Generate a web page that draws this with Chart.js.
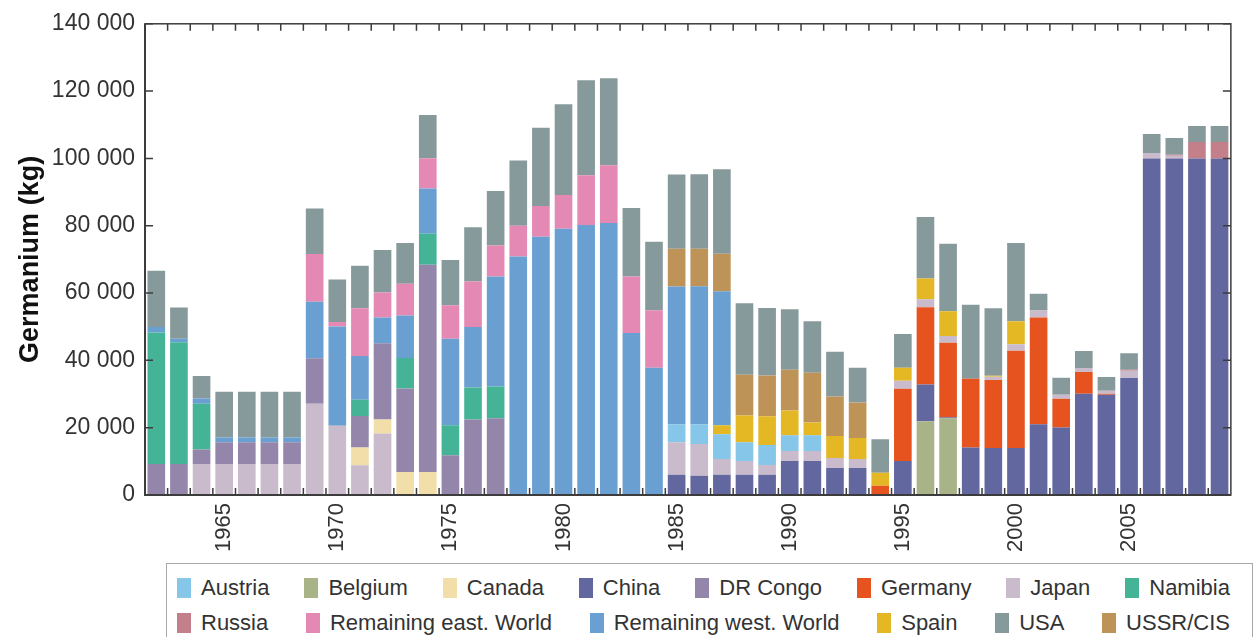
<!DOCTYPE html>
<html>
<head>
<meta charset="utf-8">
<script src="https://cdn.jsdelivr.net/npm/chart.js@4.4.1/dist/chart.umd.min.js"></script>
<style>
  body { margin: 0; background: #fff; font-family: 'Liberation Sans', Arial, sans-serif; }
  #wrap { position: relative; width: 1254px; height: 637px; overflow: hidden; }
  #box { position: absolute; left: 0; top: 0; width: 1254px; height: 560px; }
  #legend {
    position: absolute; left: 166px; top: 563px; width: 1053px; height: 90px;
    border: 1.5px solid #a8a8a8; padding: 6px 22px 0 10px; color: #333; font-size: 22px;
  }
  .row { display: flex; justify-content: space-between; height: 35px; align-items: center; }
  .item { display: flex; align-items: center; white-space: nowrap; }
  .sw { width: 14px; height: 20px; margin-right: 10px; }
</style>
</head>
<body>
<div id="wrap">
  <div id="box"><canvas id="chart"></canvas></div>
  <div id="legend"></div>
</div>
<script>
const years = [1962, 1963, 1964, 1965, 1966, 1967, 1968, 1969, 1970, 1971, 1972, 1973,
  1974, 1975, 1976, 1977, 1978, 1979, 1980, 1981, 1982, 1983, 1984, 1985,
  1986, 1987, 1988, 1989, 1990, 1991, 1992, 1993, 1994, 1995, 1996, 1997,
  1998, 1999, 2000, 2001, 2002, 2003, 2004, 2005, 2006, 2007, 2008, 2009];
const shownYears = [1965, 1970, 1975, 1980, 1985, 1990, 1995, 2000, 2005];

// kg per year, 1962..2009
const belgium = [0,0,0,0,0,0,0,0,0,0,0,0, 0,0,0,0,0,0,0,0,0,0,0,0,
  0,0,0,0,0,0,0,0,0,0,21900,22800, 0,0,0,0,0,0,0,0,0,0,0,0];
const china = [0,0,0,0,0,0,0,0,0,0,0,0, 0,0,0,0,0,0,0,0,0,0,0,6000,
  5700,6000,6000,6000,10100,10100,8050,8050,0,10100,10900,300,
  14150,13950,13950,21000,20050,30050,29750,34750,100000,100000,100000,100000];
const germany = [0,0,0,0,0,0,0,0,0,0,0,0, 0,0,0,0,0,0,0,0,0,0,0,0,
  0,0,0,0,0,0,0,0,2750,21500,23000,22100, 20400,20250,28900,31750,8550,6500,300,0,0,0,0,0];
const japan = [0,0,9200,9200,9200,9200,9200,27100,20600,8850,18250,0, 0,0,0,0,0,0,0,0,0,0,0,9700,
  9450,4700,4100,2950,2950,2950,2950,2650,0,2350,2350,2050, 0,900,1950,2050,1200,1200,900,2150,1650,800,0,0];
const canada = [0,0,0,0,0,0,0,0,0,5300,4150,6800, 6800,0,0,0,0,0,0,0,0,0,0,0,
  0,0,0,0,0,0,0,0,0,0,0,0, 0,0,0,0,0,0,0,0,0,0,0,0];
const austria = [0,0,0,0,0,0,0,0,0,0,0,0, 0,0,0,0,0,0,0,0,0,0,0,5300,
  5900,7350,5600,5900,4700,4700,0,0,0,0,0,0, 0,0,0,0,0,0,0,0,0,0,0,0];
const spain = [0,0,0,0,0,0,0,0,0,0,0,0, 0,0,0,0,0,0,0,0,0,0,0,0,
  0,2650,7950,8550,7350,3800,6500,6200,3850,3850,6200,7350, 0,300,6800,0,0,0,0,0,0,0,0,0];
const drCongo = [9200,9200,4350,6500,6500,6500,6500,13550,0,9350,22700,24850, 61600,11800,22400,22800,0,0,0,0,0,0,0,0,
  0,0,0,0,0,0,0,0,0,0,0,0, 0,0,0,0,0,0,0,0,0,0,0,0];
const namibia = [39100,36150,13550,0,0,0,0,0,0,4800,0,9050, 9250,8950,9550,9450,0,0,0,0,0,0,0,0,
  0,0,0,0,0,0,0,0,0,0,0,0, 0,0,0,0,0,0,0,0,0,0,0,0];
const remWest = [1600,1100,1600,1400,1400,1400,1400,16800,29500,13000,7650,12650,
  13450,25650,17950,32700,70850,76700,79100,80250,80850,48100,37800,40950,
  40950,39800,0,0,0,0,0,0,0,0,0,0, 0,0,0,0,0,0,0,0,0,0,0,0];
const remEast = [0,0,0,0,0,0,0,14150,1300,14150,7400,9450,
  8950,10000,13550,9150,9150,9150,10000,14750,17100,16800,17100,0,
  0,0,0,0,0,0,0,0,0,0,0,0, 0,0,0,0,0,0,0,0,0,0,0,0];
const ussr = [0,0,0,0,0,0,0,0,0,0,0,0, 0,0,0,0,0,0,0,0,0,0,0,11200,
  11200,11200,12100,12100,12100,14750,11800,10600,0,0,0,0, 0,0,0,0,0,0,0,0,0,0,0,0];
const russia = [0,0,0,0,0,0,0,0,0,0,0,0, 0,0,0,0,0,0,0,0,0,0,0,0,
  0,0,0,0,0,0,0,0,0,0,0,0, 0,0,0,0,0,0,0,300,0,300,4900,4900];
const usa = [16700,9250,6650,13550,13550,13550,13550,13550,12600,12700,12650,12100,
  12850,13450,16100,16200,19350,23300,27000,28200,25850,20350,20350,22100,
  22100,25050,21200,20050,18000,15300,13250,10300,10000,10000,18250,20050,
  22000,20050,23300,5000,5000,5000,4100,4950,5600,5000,4700,4700];

const yTicks = [0, 20000, 40000, 60000, 80000, 100000, 120000, 140000];

const legendOrder = ['Austria', 'Belgium', 'Canada', 'China', 'DR Congo', 'Germany', 'Japan', 'Namibia',
  'Russia', 'Remaining east. World', 'Remaining west. World', 'Spain', 'USA', 'USSR/CIS'];

// stacking order, bottom to top
const series = [
  ['Belgium', belgium, '#a9b388'],
  ['China', china, '#63679f'],
  ['Germany', germany, '#e6531f'],
  ['Japan', japan, '#c9bbcb'],
  ['Canada', canada, '#f2dea8'],
  ['Austria', austria, '#85c6e9'],
  ['Spain', spain, '#e4b825'],
  ['DR Congo', drCongo, '#9386aa'],
  ['Namibia', namibia, '#45b396'],
  ['Remaining west. World', remWest, '#69a0d1'],
  ['Remaining east. World', remEast, '#e489b4'],
  ['USSR/CIS', ussr, '#bd9358'],
  ['Russia', russia, '#c4808a'],
  ['USA', usa, '#879a9b']
];

const spaced = v => String(v).replace(/\B(?=(\d{3})+(?!\d))/g, ' ');

const frameTicks = {
  id: 'frameTicks',
  afterDatasetsDraw(chart) {
    const { ctx, chartArea: a, scales: { x, y } } = chart;
    ctx.save();
    ctx.strokeStyle = '#3c3c3c';
    ctx.lineWidth = 1.5;
    ctx.strokeRect(a.left, a.top, a.right - a.left, a.bottom - a.top);
    ctx.lineWidth = 2;
    ctx.beginPath();
    ctx.moveTo(a.left, a.top); ctx.lineTo(a.left, a.bottom); ctx.lineTo(a.right, a.bottom);
    ctx.stroke();
    ctx.lineWidth = 1.5;
    ctx.beginPath();
    for (let i = 1; i < years.length; i++) {
      const px = x.getPixelForValue(i - 0.5);
      ctx.moveTo(px, a.bottom); ctx.lineTo(px, a.bottom - 7);
      ctx.moveTo(px, a.top); ctx.lineTo(px, a.top + 7);
    }
    y.ticks.forEach((t, i) => {
      const py = y.getPixelForTick(i);
      ctx.moveTo(a.left, py); ctx.lineTo(a.left + 8, py);
      ctx.moveTo(a.right, py); ctx.lineTo(a.right - 8, py);
    });
    ctx.stroke();
    ctx.restore();
  }
};

const chart = new Chart(document.getElementById('chart').getContext('2d'), {
  type: 'bar',
  data: {
    labels: years,
    datasets: series.map(([label, data, color]) => ({
      label, data, backgroundColor: color, borderWidth: 0,
      barPercentage: 0.78, categoryPercentage: 1
    }))
  },
  options: {
    responsive: true,
    maintainAspectRatio: false,
    animation: false,
    layout: { padding: { top: 20, right: 4, left: 0, bottom: 0 } },
    plugins: { legend: { display: false }, tooltip: { enabled: false } },
    scales: {
      x: {
        stacked: true,
        afterFit: s => { s.height = 65; },
        grid: { display: false, drawTicks: false },
        border: { display: false },
        ticks: {
          autoSkip: false, maxRotation: 90, minRotation: 90, padding: 8,
          color: '#333', font: { family: "'Liberation Sans', Arial", size: 22 },
          callback: (v, i) => shownYears.includes(years[i]) ? String(years[i]) : ''
        }
      },
      y: {
        stacked: true,
        min: 0, max: 140000,
        afterFit: s => { s.width = 145; },
        afterBuildTicks: s => { s.ticks = yTicks.map(v => ({ value: v })); },
        grid: { display: false, drawTicks: false },
        border: { display: false },
        ticks: {
          padding: 10, color: '#333',
          font: { family: "'Liberation Sans', Arial", size: 23 },
          callback: v => spaced(v)
        },
        title: {
          display: true, text: 'Germanium (kg)', color: '#111',
          font: { family: "'Liberation Sans', Arial", size: 27, weight: 'bold' },
          padding: { top: 14, bottom: 0 }
        }
      }
    }
  },
  plugins: [frameTicks]
});

// HTML legend in the reference's order
const legend = document.getElementById('legend');
[legendOrder.slice(0, 8), legendOrder.slice(8)].forEach(names => {
  const row = document.createElement('div');
  row.className = 'row';
  names.forEach(name => {
    const ds = chart.data.datasets.find(d => d.label === name);
    const item = document.createElement('div');
    item.className = 'item';
    const sw = document.createElement('span');
    sw.className = 'sw';
    sw.style.background = ds.backgroundColor;
    item.appendChild(sw);
    item.appendChild(document.createTextNode(name));
    row.appendChild(item);
  });
  legend.appendChild(row);
});
</script>
</body>
</html>
